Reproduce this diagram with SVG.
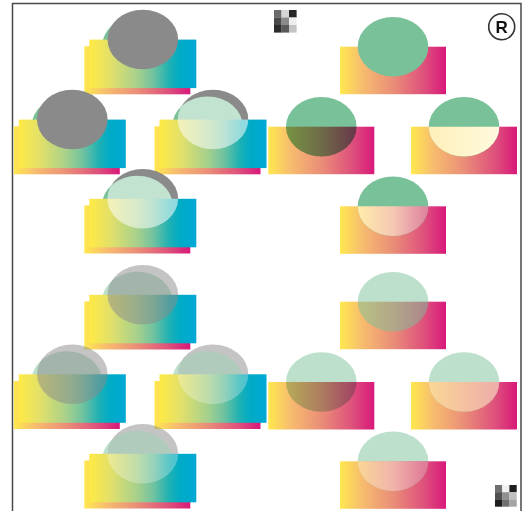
<svg xmlns="http://www.w3.org/2000/svg" width="529" height="511" viewBox="0 0 529 511">
<defs>
<linearGradient id="pg" x1="0" y1="0" x2="1" y2="0">
<stop offset="0" stop-color="#FFE84E"/><stop offset="0.2" stop-color="#F7BE6E"/><stop offset="0.5" stop-color="#EA8E78"/><stop offset="0.8" stop-color="#DE4F7C"/><stop offset="1" stop-color="#D9187A"/>
</linearGradient>
<linearGradient id="cg" x1="0" y1="0" x2="1" y2="0">
<stop offset="0" stop-color="#FFEA45"/><stop offset="0.2" stop-color="#E2E06A"/><stop offset="0.45" stop-color="#A6D08C"/><stop offset="0.6" stop-color="#70C2A0"/><stop offset="0.75" stop-color="#1EB1B4"/><stop offset="0.85" stop-color="#00ABC6"/><stop offset="1" stop-color="#00A8D5"/>
</linearGradient>
<linearGradient id="g3" x1="0" y1="0" x2="1" y2="0"><stop offset="0" stop-color="#FFF0B9"/><stop offset="1" stop-color="#FFFADE"/></linearGradient>
<linearGradient id="g4" x1="0" y1="0" x2="1" y2="0"><stop offset="0" stop-color="#FFECAA"/><stop offset="0.5" stop-color="#F5C8B4"/><stop offset="1" stop-color="#DE809E"/></linearGradient>
<linearGradient id="g7" x1="0" y1="0" x2="1" y2="0"><stop offset="0" stop-color="#FAD796"/><stop offset="1" stop-color="#EEACAA"/></linearGradient>
<linearGradient id="g8" x1="0" y1="0" x2="1" y2="0"><stop offset="0" stop-color="#FAD796"/><stop offset="0.5" stop-color="#F0B4AA"/><stop offset="1" stop-color="#DE7696"/></linearGradient>
<clipPath id="rc"><rect x="0" y="0" width="106" height="47.5"/></clipPath>
</defs>
<style>
.pr{fill:url(#pg)}
.cr{fill:url(#cg)}
.gr{fill:#79C199}
.gy{fill:#8A8A8A}
.h{opacity:0.5}
.scr{mix-blend-mode:screen}
.mul{mix-blend-mode:multiply}
.iso{isolation:isolate}
</style>
<rect width="529" height="511" fill="#fff"/>
<rect x="12.5" y="3.5" width="508.5" height="520" fill="none" stroke="#4a4a4a" stroke-width="1.5"/>

<!-- left column -->
<g id="L1" transform="translate(84.3,46.3)">
<rect class="pr" width="106" height="48"/><ellipse class="gr" cx="53" cy="0" rx="35.3" ry="29.8"/>
<rect class="cr" x="5" y="-6.7" width="107" height="48.5"/><ellipse class="gy" cx="58.5" cy="-6.8" rx="35.3" ry="29.8"/>
</g>
<g id="L2" transform="translate(13.8,126.3)">
<rect class="pr" width="106" height="48"/><ellipse class="gr" cx="53" cy="0" rx="35.3" ry="29.8"/>
<rect class="cr" x="5" y="-6.7" width="107" height="48.5"/><ellipse class="gy" cx="58.5" cy="-6.8" rx="35.3" ry="29.8"/>
</g>
<g id="L3" class="iso" transform="translate(154.5,126.3)">
<rect class="pr" width="106" height="48"/><ellipse class="gr" cx="53" cy="0" rx="35.3" ry="29.8"/>
<rect class="cr" x="5" y="-6.7" width="107" height="48.5"/><ellipse class="gy scr" cx="58.5" cy="-6.8" rx="35.3" ry="29.8"/>
</g>
<g id="L4" class="iso" transform="translate(84.3,205.5)">
<rect class="pr" width="106" height="48"/><ellipse class="gr" cx="53" cy="0" rx="35.3" ry="29.8"/>
<rect class="cr" x="5" y="-6.7" width="107" height="48.5"/><ellipse class="gy scr" cx="58.5" cy="-6.8" rx="35.3" ry="29.8"/>
</g>
<g id="L5" transform="translate(84.3,301.5)">
<rect class="pr" width="106" height="48"/><ellipse class="gr h" cx="53" cy="0" rx="35.3" ry="29.8"/>
<rect class="cr" x="5" y="-6.7" width="107" height="48.5"/><ellipse class="gy h" cx="58.5" cy="-6.8" rx="35.3" ry="29.8"/>
</g>
<g id="L6" transform="translate(13.8,381)">
<rect class="pr" width="106" height="48"/><ellipse class="gr h" cx="53" cy="0" rx="35.3" ry="29.8"/>
<rect class="cr" x="5" y="-6.7" width="107" height="48.5"/><ellipse class="gy h" cx="58.5" cy="-6.8" rx="35.3" ry="29.8"/>
</g>
<g id="L7" class="iso" transform="translate(154.5,381)">
<rect class="pr" width="106" height="48"/><ellipse class="gr h" cx="53" cy="0" rx="35.3" ry="29.8"/>
<rect class="cr" x="5" y="-6.7" width="107" height="48.5"/><ellipse class="gy scr h" cx="58.5" cy="-6.8" rx="35.3" ry="29.8"/>
</g>
<g id="L8" class="iso" transform="translate(84.3,460.5)">
<rect class="pr" width="106" height="48"/><ellipse class="gr h" cx="53" cy="0" rx="35.3" ry="29.8"/>
<rect class="cr" x="5" y="-6.7" width="107" height="48.5"/><ellipse class="gy scr h" cx="58.5" cy="-6.8" rx="35.3" ry="29.8"/>
</g>

<!-- right column -->
<g id="R1" transform="translate(340,46.7)">
<rect class="pr" width="106" height="47.5"/><ellipse class="gr" cx="53" cy="0" rx="35.3" ry="29.8"/>
</g>
<g id="R2" transform="translate(268.3,126.7)">
<rect class="pr" width="106" height="47.5"/><ellipse class="gr mul" cx="53" cy="0" rx="35.3" ry="29.8"/>
</g>
<g id="R3" transform="translate(411,126.7)">
<rect class="pr" width="106" height="47.5"/><ellipse class="gr" cx="53" cy="0" rx="35.3" ry="29.8"/>
<ellipse fill="url(#g3)" clip-path="url(#rc)" cx="53" cy="0" rx="35.3" ry="29.8"/>
</g>
<g id="R4" transform="translate(340,206.3)">
<rect class="pr" width="106" height="47.5"/><ellipse class="gr" cx="53" cy="0" rx="35.3" ry="29.8"/>
<ellipse fill="url(#g4)" clip-path="url(#rc)" cx="53" cy="0" rx="35.3" ry="29.8"/>
</g>
<g id="R5" transform="translate(340,301.7)">
<rect class="pr" width="106" height="47.5"/><ellipse class="gr h" cx="53" cy="0" rx="35.3" ry="29.8"/>
</g>
<g id="R6" transform="translate(268.3,382)">
<rect class="pr" width="106" height="47.5"/><ellipse class="gr h mul" cx="53" cy="0" rx="35.3" ry="29.8"/>
</g>
<g id="R7" transform="translate(411,382)">
<rect class="pr" width="106" height="47.5"/><ellipse class="gr h" cx="53" cy="0" rx="35.3" ry="29.8"/>
<ellipse fill="url(#g7)" clip-path="url(#rc)" cx="53" cy="0" rx="35.3" ry="29.8"/>
</g>
<g id="R8" transform="translate(340,461.3)">
<rect class="pr" width="106" height="47.5"/><ellipse class="gr h" cx="53" cy="0" rx="35.3" ry="29.8"/>
<ellipse fill="url(#g8)" clip-path="url(#rc)" cx="53" cy="0" rx="35.3" ry="29.8"/>
</g>

<!-- icons -->
<g id="icon-top" transform="translate(274,10)">
<rect x="0" y="0" width="7.6" height="7.6" fill="#6a6a6a"/><rect x="7.5" y="0" width="7.6" height="7.6" fill="#d6d6d6"/><rect x="15" y="0" width="7.6" height="7.6" fill="#262626"/>
<rect x="0" y="7.5" width="7.6" height="7.6" fill="#4a4a4a"/><rect x="7.5" y="7.5" width="7.6" height="7.6" fill="#8a8a8a"/><rect x="15" y="7.5" width="7.6" height="7.6" fill="#eeeeee"/>
<rect x="0" y="15" width="7.6" height="7.6" fill="#2c2c2c"/><rect x="7.5" y="15" width="7.6" height="7.6" fill="#5a5a5a"/><rect x="15" y="15" width="7.6" height="7.6" fill="#c4c4c4"/>
</g>
<g id="icon-bottom" transform="translate(495,485)">
<rect x="0" y="0" width="7.3" height="7.3" fill="#707070"/><rect x="7.2" y="0" width="7.3" height="7.3" fill="#f2f2f2"/><rect x="14.4" y="0" width="7.3" height="7.3" fill="#1e1e1e"/>
<rect x="0" y="7.2" width="7.3" height="7.3" fill="#505050"/><rect x="7.2" y="7.2" width="7.3" height="7.3" fill="#909090"/><rect x="14.4" y="7.2" width="7.3" height="7.3" fill="#c0c0c0"/>
<rect x="0" y="14.4" width="7.3" height="7.3" fill="#1e1e1e"/><rect x="7.2" y="14.4" width="7.3" height="7.3" fill="#6e6e6e"/><rect x="14.4" y="14.4" width="7.3" height="7.3" fill="#a4a4a4"/>
</g>
<g id="reg-mark">
<circle cx="501.7" cy="26.7" r="13" fill="#fff" stroke="#333" stroke-width="1.6"/>
<text x="501.7" y="33" text-anchor="middle" font-family="Liberation Sans, Arial, sans-serif" font-weight="bold" font-size="17" fill="#111">R</text>
</g>
</svg>
